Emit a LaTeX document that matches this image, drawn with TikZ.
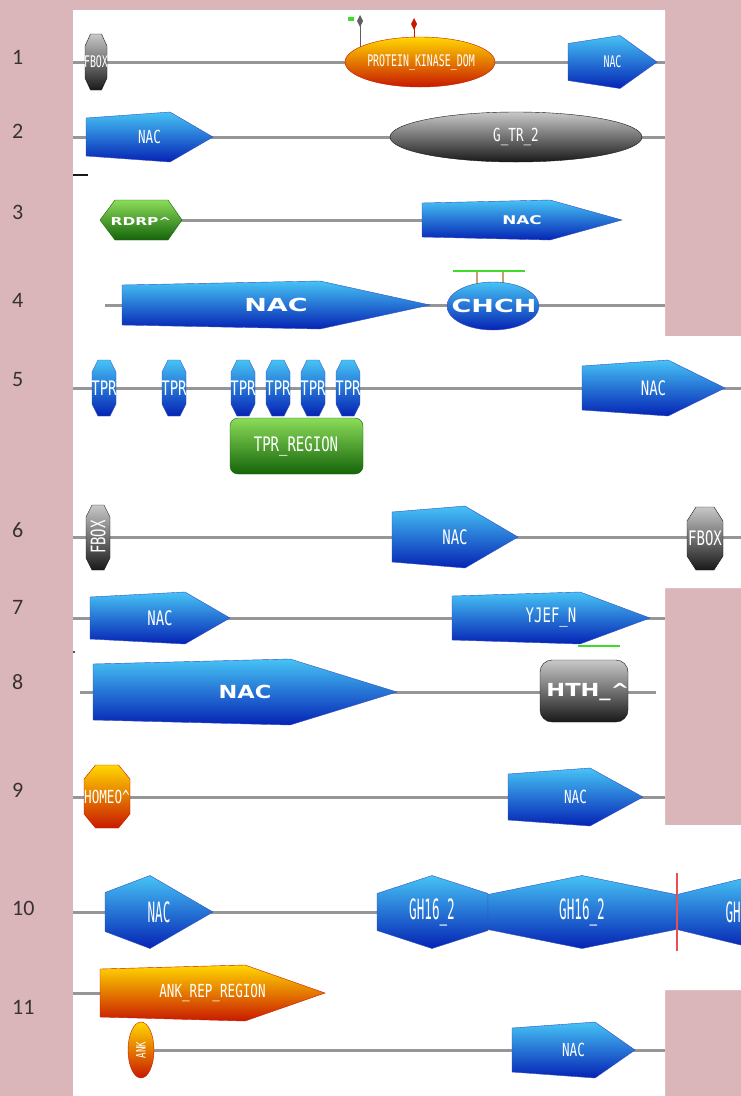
\documentclass[tikz,border=0pt]{standalone}
\usepackage{fontspec}
\newfontfamily\monoA[FakeStretch=0.62]{DejaVu Sans Mono}
\newfontfamily\monoB[FakeStretch=0.7]{DejaVu Sans Mono}
\newfontfamily\monoC[FakeStretch=0.45]{DejaVu Sans Mono}
\newfontfamily\wideA[FakeStretch=1.5]{DejaVu Sans Bold}
\newfontfamily\wideB[FakeStretch=1.25]{DejaVu Sans Bold}
\newfontfamily\wideC[FakeStretch=1.4]{DejaVu Sans Bold}
\newfontfamily\numfont{Carlito}
\newcommand\lfA{\monoA\fontsize{16}{16}\selectfont}
\newcommand\lfB{\monoB\fontsize{18}{18}\selectfont}
\newcommand\lfD{\monoB\fontsize{20}{20}\selectfont}
\newcommand\lfC{\monoC\fontsize{28}{28}\selectfont}
\newcommand\lfW{\wideA\fontsize{18}{18}\selectfont}
\newcommand\lfH{\wideB\fontsize{18}{18}\selectfont}
\newcommand\lfR{\wideC\fontsize{11}{11}\selectfont}
\definecolor{pinkbg}{RGB}{218,182,186}
\definecolor{bbgray}{RGB}{150,150,150}
\definecolor{bluetop}{RGB}{70,195,245}
\definecolor{bluemid}{RGB}{15,105,215}
\definecolor{bluebot}{RGB}{5,35,180}
\definecolor{graytop}{RGB}{200,200,200}
\definecolor{graymid}{RGB}{95,95,95}
\definecolor{graybot}{RGB}{25,25,25}
\definecolor{greentop}{RGB}{140,220,90}
\definecolor{greenmid}{RGB}{45,150,20}
\definecolor{greenbot}{RGB}{20,100,10}
\definecolor{orangetop}{RGB}{255,215,0}
\definecolor{orangemid}{RGB}{240,130,0}
\definecolor{orangebot}{RGB}{200,25,0}
\definecolor{numcol}{RGB}{55,50,50}
\definecolor{bridgegreen}{RGB}{60,220,40}
\definecolor{bridgetan}{RGB}{200,160,110}
\definecolor{redmark}{RGB}{230,80,80}
\tikzset{
  bb/.style={draw=bbgray, line width=3pt},
  bluesh/.style={top color=bluetop, middle color=bluemid, bottom color=bluebot, draw=bluebot!80, line width=0.4pt},
  graysh/.style={top color=graytop, middle color=graymid, bottom color=graybot, draw=graybot, line width=0.4pt},
  greensh/.style={top color=greentop, middle color=greenmid, bottom color=greenbot, draw=greenbot, line width=0.4pt},
  orangesh/.style={top color=orangetop, middle color=orangemid, bottom color=orangebot, draw=orangebot, line width=0.4pt},
  lbl/.style={text=white, font=\lfB, inner sep=0pt},
  rownum/.style={text=numcol, font=\numfont\fontsize{22}{24}\selectfont, anchor=west, inner sep=0pt},
}
% pentagon arrow: name, x1, xpeak, xtip, yc, h, inset, style, label
\newcommand{\smpent}[9]{%
  \shade[#8] (#2,{#5-#6/2+#7}) -- (#3,{#5-#6/2}) -- (#4,#5) -- (#3,{#5+#6/2}) -- (#2,{#5+#6/2-#7}) -- cycle;
  \node[lbl] (#1) at ({(#2+#4)/2},#5) {#9};}
% hexagon with vertical sides: name, x1, xpeak, x2, yc, h, inset, style, label
\newcommand{\smhex}[9]{%
  \shade[#8] (#2,{#5-#6/2+#7}) -- (#3,{#5-#6/2}) -- (#4,{#5-#6/2+#7}) -- (#4,{#5+#6/2-#7}) -- (#3,{#5+#6/2}) -- (#2,{#5+#6/2-#7}) -- cycle;
  \node[lbl] (#1) at (#3,#5) {#9};}
% vertical octagon: name, xc, w, y1, y2, d, style, label
\newcommand{\smoct}[8]{%
  \shade[#7] ({#2-#3/4},#4) -- ({#2+#3/4},#4) -- ({#2+#3/2},{#4+#6}) -- ({#2+#3/2},{#5-#6}) -- ({#2+#3/4},#5) -- ({#2-#3/4},#5) -- ({#2-#3/2},{#5-#6}) -- ({#2-#3/2},{#4+#6}) -- cycle;
  \node[lbl] (#1) at (#2,{(#4+#5)/2}) {#8};}
\begin{document}
\begin{tikzpicture}[x=1pt,y=-1pt]
\useasboundingbox (0,0) rectangle (741,1096);
\fill[pinkbg] (0,0) rectangle (741,1096);
\fill[white] (73,10) -- (665,10) -- (665,336) -- (741,336) -- (741,588) -- (665,588) -- (665,825) -- (741,825) -- (741,990) -- (665,990) -- (665,1096) -- (73,1096) -- cycle;

% row numbers
\node[rownum] (n1) at (12,57) {1};
\node[rownum] (n2) at (12,131) {2};
\node[rownum] (n3) at (12,212) {3};
\node[rownum] (n4) at (12,300) {4};
\node[rownum] (n5) at (12,380) {5};
\node[rownum] (n6) at (12,530) {6};
\node[rownum] (n7) at (12,607) {7};
\node[rownum] (n8) at (12,682) {8};
\node[rownum] (n9) at (12,790) {9};
\node[rownum] (n10) at (12,908) {10};
\node[rownum] (n11) at (12,1007) {11};

% backbones
\coordinate (a1) at (73,62);   \coordinate (b1) at (665,62);
\coordinate (a2) at (73,137);  \coordinate (b2) at (665,137);
\coordinate (a3) at (141,220); \coordinate (b3) at (430,220);
\coordinate (a4) at (105,305); \coordinate (b4) at (665,305);
\coordinate (a5) at (73,388);  \coordinate (b5) at (741,388);
\coordinate (a6) at (73,537);  \coordinate (b6) at (741,537);
\coordinate (a7) at (73,618);  \coordinate (b7) at (665,618);
\coordinate (a8) at (80,692);  \coordinate (b8) at (656,692);
\coordinate (a9) at (73,797);  \coordinate (b9) at (665,797);
\coordinate (a10) at (73,912); \coordinate (b10) at (741,912);
\coordinate (a11) at (73,993); \coordinate (b11) at (105,993);
\coordinate (c11) at (145,1050); \coordinate (d11) at (665,1050);
\draw[bb] (a1) -- (b1);
\draw[bb] (a2) -- (b2);
\draw[bb] (a3) -- (b3);
\draw[bb] (a4) -- (b4);
\draw[bb] (a5) -- (b5);
\draw[bb] (a6) -- (b6);
\draw[bb] (a7) -- (b7);
\draw[bb] (a8) -- (b8);
\draw[bb] (a9) -- (b9);
\draw[bb] (a10) -- (b10);
\draw[bb] (a11) -- (b11);
\draw[bb] (c11) -- (d11);

% small marks at left edge
\coordinate (m1) at (73,175); \coordinate (m2) at (88,175);
\draw[graybot, line width=1.5pt] (m1) -- (m2);
\fill[graybot] (74,652) circle (1.2);

% row 1
\smoct{fbox1}{96}{22}{34}{90}{12}{graysh}{\lfA FBOX}
\coordinate (s1a) at (360,47); \coordinate (s1b) at (360,22);
\draw[graymid, line width=1pt] (s1a) -- (s1b);
\fill[graymid] (360,15) -- (363,21) -- (360,27) -- (357,21) -- cycle;
\fill[bridgegreen] (348,17) rectangle (354,21);
\coordinate (s2a) at (414,38); \coordinate (s2b) at (414,26);
\draw[orangebot, line width=1pt] (s2a) -- (s2b);
\fill[orangebot] (414,18) -- (417,24) -- (414,30) -- (411,24) -- cycle;
\shade[orangesh] (420,62) ellipse (75 and 25);
\node[lbl, font=\lfA] (pk) at (421,62) {PROTEIN\_KINASE\_DOM};
\smpent{nac1}{568}{620}{657}{62}{53}{8}{bluesh}{\lfA NAC}

% row 2
\smpent{nac2}{86}{170}{213}{137}{50}{6}{bluesh}{NAC}
\shade[graysh] (516,137) ellipse (126 and 25);
\node[lbl] (gtr) at (516,137) {G\_TR\_2};

% row 3
\shade[greensh] (100,220) -- (115,200) -- (168,200) -- (182,220) -- (168,240) -- (115,240) -- cycle;
\node[lbl, font=\lfR] (rdrp) at (141,221) {RDRP\textasciicircum};
\smpent{nac3}{422}{550}{622}{220}{40}{3}{bluesh}{\wideC\fontsize{12}{12}\selectfont NAC}

% row 4
\smpent{nac4}{122}{320}{430}{305}{48}{4}{bluesh}{\lfW NAC}
\coordinate (br1) at (453,271); \coordinate (br2) at (525,271);
\coordinate (bl1) at (477,271); \coordinate (bl1b) at (477,285);
\coordinate (bl2) at (503,271); \coordinate (bl2b) at (503,285);
\draw[bridgetan, line width=1.5pt] (bl1) -- (bl1b);
\draw[bridgetan, line width=1.5pt] (bl2) -- (bl2b);
\draw[bridgegreen, line width=2.5pt] (br1) -- (br2);
\shade[bluesh] (493,306) ellipse (46 and 24);
\node[lbl, font=\lfW] (chch) at (494,306) {CHCH};

% row 5
\smoct{tpr1}{104}{24}{360}{416}{12}{bluesh}{\lfD TPR}
\smoct{tpr2}{174}{24}{360}{416}{12}{bluesh}{\lfD TPR}
\smoct{tpr3}{243}{24}{360}{416}{12}{bluesh}{\lfD TPR}
\smoct{tpr4}{278}{24}{360}{416}{12}{bluesh}{\lfD TPR}
\smoct{tpr5}{313}{24}{360}{416}{12}{bluesh}{\lfD TPR}
\smoct{tpr6}{348}{24}{360}{416}{12}{bluesh}{\lfD TPR}
\shade[greensh, rounded corners=8pt] (230,418) rectangle (363,474);
\node[lbl, font=\lfD] (tprreg) at (296,446) {TPR\_REGION};
\smpent{nac5}{582}{668}{725}{388}{56}{6}{bluesh}{\lfD NAC}

% row 6
\smoct{fbox2}{98}{24}{505}{570}{12}{graysh}{}
\node[lbl, rotate=90, font=\lfD] (fbox2t) at (98,537) {FBOX};
\smpent{nac6}{392}{465}{518}{537}{62}{6}{bluesh}{\lfD NAC}
\smoct{fbox3}{705}{36}{507}{570}{14}{graysh}{\lfD FBOX}

% row 7
\smpent{nac7}{90}{185}{230}{618}{52}{5}{bluesh}{\lfD NAC}
\smpent{yjef}{452}{580}{650}{618}{52}{4}{bluesh}{\lfD YJEF\_N}
\coordinate (g7a) at (578,646); \coordinate (g7b) at (620,646);
\draw[bridgegreen, line width=2.5pt] (g7a) -- (g7b);

% row 8
\smpent{nac8}{93}{290}{397}{692}{66}{5}{bluesh}{\lfH NAC}
\shade[graysh, rounded corners=12pt] (540,660) rectangle (628,722);
\node[lbl, font=\lfH] (hth) at (588,692) {HTH\_\textasciicircum};

% row 9
\smoct{homeo}{107}{46}{765}{828}{14}{orangesh}{HOMEO\textasciicircum}
\smpent{nac9}{508}{590}{643}{797}{58}{6}{bluesh}{NAC}

% row 10
\smpent{nac10}{105}{150}{213}{912}{73}{17}{bluesh}{\lfC NAC}
\smhex{gh1}{377}{432}{488}{912}{73}{18}{bluesh}{\lfC GH16\_2}
\smhex{gh2}{488}{582}{676}{912}{73}{19}{bluesh}{\lfC GH16\_2}
\smhex{gh3}{677}{755}{835}{912}{73}{19}{bluesh}{}
\node[lbl, font=\lfC, anchor=east] (gh3t) at (741,912) {GH};
\coordinate (rm1) at (677,873); \coordinate (rm2) at (677,951);
\draw[redmark, line width=1.2pt] (rm1) -- (rm2);

% row 11
\smpent{ank1}{100}{245}{325}{993}{56}{4}{orangesh}{ANK\_REP\_REGION}
\shade[orangesh] (141,1050) ellipse (13 and 28);
\node[lbl, rotate=90, font=\monoB\fontsize{13}{13}\selectfont] (ank2) at (141,1050) {ANK};
\smpent{nac11}{512}{595}{635}{1050}{56}{6}{bluesh}{NAC}
\end{tikzpicture}
\end{document}
